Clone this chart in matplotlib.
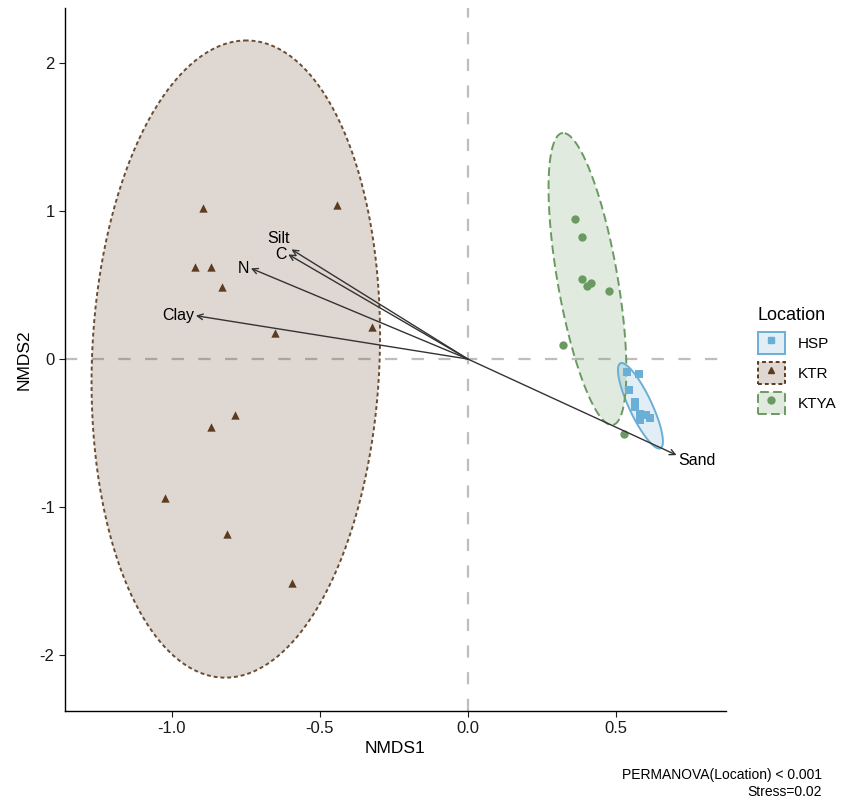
import numpy as np
import matplotlib
matplotlib.use("Agg")
import matplotlib.pyplot as plt
from matplotlib.patches import Patch
from matplotlib.lines import Line2D

plt.rcParams['font.family'] = ['Liberation Sans', 'DejaVu Sans']

# site scores
hsp_x = [0.539, 0.577, 0.545, 0.563, 0.565, 0.583, 0.601, 0.581, 0.615]
hsp_y = [-0.090, -0.099, -0.207, -0.293, -0.322, -0.374, -0.378, -0.412, -0.401]

ktr_x = [-0.895, -0.443, -0.922, -0.868, -0.831, -0.324, -0.652, -0.787, -0.868, -1.024, -0.814, -0.595]
ktr_y = [1.020, 1.040, 0.620, 0.620, 0.486, 0.216, 0.176, -0.378, -0.459, -0.939, -1.182, -1.514]

ktya_x = [0.361, 0.385, 0.385, 0.402, 0.416, 0.476, 0.321, 0.527]
ktya_y = [0.946, 0.824, 0.540, 0.493, 0.514, 0.459, 0.095, -0.507]

# environmental vectors
env_names = ['Silt', 'C', 'N', 'Clay', 'Sand']
env_x = [-0.596, -0.607, -0.733, -0.919, 0.705]
env_y = [0.741, 0.707, 0.613, 0.293, -0.649]

# ellipses: centre x, centre y, semi-major, semi-minor, angle (deg)
ell_hsp = [0.583, -0.316, 0.296, 0.041, 102.6]
ell_ktr = [-0.784, 0.000, 2.153, 0.486, 89.0]
ell_ktya = [0.404, 0.541, 0.990, 0.1025, 94.8]

groups = ['HSP', 'KTR', 'KTYA']
colors = {'HSP': '#6BAED6', 'KTR': '#5C3B1E', 'KTYA': '#6A9A62'}
markers = {'HSP': 's', 'KTR': '^', 'KTYA': 'o'}
lstyles = {'HSP': '-', 'KTR': (0, (2.0, 1.5)), 'KTYA': (0, (4.5, 2.2))}
data = {'HSP': (hsp_x, hsp_y, ell_hsp),
        'KTR': (ktr_x, ktr_y, ell_ktr),
        'KTYA': (ktya_x, ktya_y, ell_ktya)}


def ellipse_xy(cx, cy, a, b, ang):
    t = np.linspace(0, 2 * np.pi, 300)
    th = np.deg2rad(ang)
    x = cx + a * np.cos(t) * np.cos(th) - b * np.sin(t) * np.sin(th)
    y = cy + a * np.cos(t) * np.sin(th) + b * np.sin(t) * np.cos(th)
    return x, y


fig = plt.figure(figsize=(8.43, 8.05), dpi=100)
ax = fig.add_axes([65 / 843, 1 - 711 / 805, 661 / 843, 703 / 805])

ax.axhline(0, color='#BEBEBE', lw=1.6, ls=(0, (5.5, 6.5)), zorder=1)
ax.axvline(0, color='#BEBEBE', lw=1.6, ls=(0, (5.5, 6.5)), zorder=1)

for g in groups:
    x, y, e = data[g]
    ex, ey = ellipse_xy(*e)
    ax.fill(ex, ey, color=colors[g], alpha=0.2, lw=0, zorder=2)
    ax.plot(ex, ey, color=colors[g], lw=1.4, ls=lstyles[g], zorder=3,
            alpha=0.9 if g == 'KTR' else 1.0)
    ax.scatter(x, y, marker=markers[g], color=colors[g], s=36, lw=0, zorder=4)

for name, x, y in zip(env_names, env_x, env_y):
    ax.annotate('', xy=(x, y), xytext=(0, 0),
                arrowprops=dict(arrowstyle='->', color='#333333', lw=1.0,
                                mutation_scale=10, shrinkA=0, shrinkB=0),
                zorder=5)
    if x < 0:
        off = (-1, 7.5) if name == 'Silt' else (-1, 0)
        ha = 'right'
    else:
        off = (1, -4)
        ha = 'left'
    ax.annotate(name, xy=(x, y), xytext=off, textcoords='offset points',
                ha=ha, va='center', fontsize=11.5, color='black', zorder=6)

ax.set_xlim(-1.361, 0.872)
ax.set_ylim(-2.378, 2.372)
ax.set_xticks([-1.0, -0.5, 0.0, 0.5])
ax.set_xticklabels(['-1.0', '-0.5', '0.0', '0.5'])
ax.set_yticks([-2, -1, 0, 1, 2])
ax.set_yticklabels(['-2', '-1', '0', '1', '2'])
ax.tick_params(labelsize=12, colors='#1A1A1A', length=4, width=0.8)
for s in ['top', 'right']:
    ax.spines[s].set_visible(False)
for s in ['left', 'bottom']:
    ax.spines[s].set_linewidth(1.0)
ax.set_xlabel('NMDS1', fontsize=12.5, labelpad=3)
ax.set_ylabel('NMDS2', fontsize=12.5, labelpad=6)

handles = []
for g in groups:
    p = Patch(facecolor=colors[g], alpha=0.2, edgecolor='none')
    ed = Patch(facecolor='none', edgecolor=colors[g], lw=1.4, ls=lstyles[g])
    m = Line2D([], [], marker=markers[g], color=colors[g], ls='none', markersize=5)
    handles.append((p, ed, m))
leg = fig.legend(handles, groups, title='Location', loc='upper left',
                 bbox_to_anchor=(747 / 843, 1 - 296 / 805), frameon=False,
                 fontsize=11, title_fontsize=13, handlelength=1.8,
                 handleheight=1.8, labelspacing=0.55, handletextpad=0.8,
                 borderpad=0.2)
leg._legend_box.align = 'left'

fig.text(822 / 843, 1 - 775 / 805, 'PERMANOVA(Location) < 0.001', ha='right',
         va='center', fontsize=10)
fig.text(822 / 843, 1 - 792 / 805, 'Stress=0.02', ha='right', va='center', fontsize=10)

fig.savefig('out.png', dpi=100)
